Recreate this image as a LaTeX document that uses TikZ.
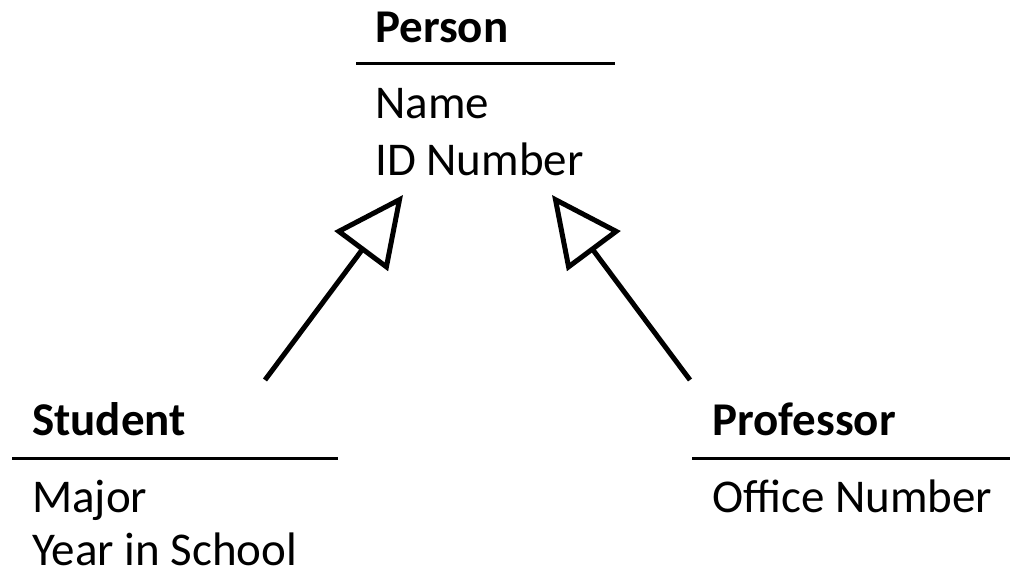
\documentclass[tikz,border=0pt]{standalone}
\usepackage{fontspec}
\setmainfont{Carlito}
\usetikzlibrary{arrows.meta}
\begin{document}
\begin{tikzpicture}[x=1pt,y=-1pt,
  txt/.style={anchor=base west,inner sep=0pt,font=\fontsize{47}{56}\selectfont},
  ttl/.style={txt,font=\fontsize{47}{56}\selectfont\bfseries},
  rule/.style={line width=2.8pt},
  inherit/.style={line width=5pt,-{Triangle[open,length=70pt,width=66pt]},line join=miter}]
\useasboundingbox (0,0) rectangle (1010,572);
% Person
\node[ttl] (person) at (375,42.5) {Person};
\draw[rule] (356,63.5) -- (615,63.5);
\node[txt] (pname) at (375,119) {Name};
\node[txt] (pid) at (375,175.5) {ID Number};
% Student
\node[ttl] (student) at (32,435.5) {Student};
\draw[rule] (12,458.3) -- (338,458.3);
\node[txt] (major) at (32,512) {Major};
\node[txt] (year) at (32,565.5) {Year in School};
% Professor
\node[ttl] (professor) at (712,435.5) {Professor};
\draw[rule] (692,458.3) -- (1010,458.3);
\node[txt] (office) at (712,512) {Office Number};
% connectors
\coordinate (stail) at (265,380);
\coordinate (shead) at (403,195);
\coordinate (ptail) at (690,380);
\coordinate (phead) at (552,195);
\draw[inherit] (stail) -- (shead);
\draw[inherit] (ptail) -- (phead);
\end{tikzpicture}
\end{document}
